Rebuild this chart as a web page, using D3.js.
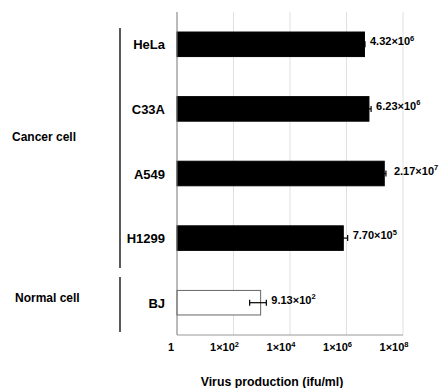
<!DOCTYPE html>
<html><head><meta charset="utf-8">
<script src="https://cdn.jsdelivr.net/npm/d3@7"></script>
<style>body{margin:0;background:#fff}text{font-family:Arial,"Liberation Sans",sans-serif;font-weight:bold}</style>
</head><body>
<svg id="c" width="442" height="388"></svg>
<script>
const categories = ["HeLa","C33A","A549","H1299","BJ"];
const values = [4.32e6, 6.23e6, 2.17e7, 7.70e5, 9.13e2];
const errors = [2.0e5, 1.2e6, 3.2e6, 3.3e5, 5.4e2];
const valueLabels = [["4.32×10","6"],["6.23×10","6"],["2.17×10","7"],["7.70×10","5"],["9.13×10","2"]];
const fills = ["#000","#000","#000","#000","#fff"];
const tickValues = [1,1e2,1e4,1e6,1e8];
const tickLabels = [["1",""],["1×10","2"],["1×10","4"],["1×10","6"],["1×10","8"]];
const groups = [{name:"Cancer cell", from:"HeLa", to:"H1299"},{name:"Normal cell", from:"BJ", to:"BJ"}];

const svg = d3.select("#c");
const x = d3.scaleLog().domain([1,1e8]).range([177,403]);
const y = d3.scaleBand().domain(categories).range([12,335]).paddingInner(0.62).paddingOuter(0.31);

// grid
svg.append("g").selectAll("line").data(tickValues.slice(1)).join("line")
  .attr("x1",d=>x(d)).attr("x2",d=>x(d)).attr("y1",12).attr("y2",335)
  .attr("stroke","#e0e0e0").attr("stroke-width",1);

// bars
svg.append("g").selectAll("rect").data(categories).join("rect")
  .attr("x",x(1)).attr("y",d=>y(d)).attr("height",y.bandwidth())
  .attr("width",(d,i)=>x(values[i])-x(1))
  .attr("fill",(d,i)=>fills[i]).attr("stroke",(d,i)=>i===4?"#666":"#000").attr("stroke-width",1);

// error bars
const eb = svg.append("g").attr("stroke","#000").attr("stroke-width",1.2);
categories.forEach((c,i)=>{
  const cy = y(c)+y.bandwidth()/2;
  const lo = x(Math.max(1,values[i]-errors[i])), hi = x(values[i]+errors[i]);
  eb.append("line").attr("x1",lo).attr("x2",hi).attr("y1",cy).attr("y2",cy);
  eb.append("line").attr("x1",hi).attr("x2",hi).attr("y1",cy-3).attr("y2",cy+3);
  if(i===4) eb.append("line").attr("x1",lo).attr("x2",lo).attr("y1",cy-3).attr("y2",cy+3);
});

// value labels
categories.forEach((c,i)=>{
  const cy = y(c)+y.bandwidth()/2;
  const t = svg.append("text").attr("x",x(values[i]+errors[i])+(i===2?8:5)).attr("y",cy+1)
    .attr("font-size",11).attr("fill","#000");
  t.append("tspan").text(valueLabels[i][0]);
  t.append("tspan").attr("dy",-4.5).attr("font-size",7.5).text(valueLabels[i][1]);
});

// axes lines
svg.append("line").attr("x1",177).attr("x2",177).attr("y1",12).attr("y2",335).attr("stroke","#777");
svg.append("line").attr("x1",177).attr("x2",403).attr("y1",335).attr("y2",335).attr("stroke","#999");

// category labels
svg.append("g").selectAll("text").data(categories).join("text")
  .attr("x",165).attr("y",d=>y(d)+y.bandwidth()/2+5).attr("text-anchor","end")
  .attr("font-size",13).text(d=>d);

// tick labels
tickValues.forEach((v,i)=>{
  const t = svg.append("text").attr("x",x(v)-(i===0?6:9)).attr("y",351).attr("text-anchor","middle").attr("font-size",11);
  t.append("tspan").text(tickLabels[i][0]);
  if(tickLabels[i][1]) t.append("tspan").attr("dy",-4.5).attr("font-size",7.5).text(tickLabels[i][1]);
});

// axis title
svg.append("text").attr("x",272).attr("y",386).attr("text-anchor","middle").attr("font-size",12.3).text("Virus production (ifu/ml)");

// group brackets
groups.forEach((g,i)=>{
  const y0 = i===0 ? 28 : 277;
  const y1 = i===0 ? 268 : 332;
  svg.append("line").attr("x1",120).attr("x2",120).attr("y1",y0).attr("y2",y1).attr("stroke","#000").attr("stroke-width",1.3);
  svg.append("text").attr("x",i===0?12:15).attr("y",i===0?141:302).attr("font-size",12).text(g.name);
});
</script>
</body></html>
